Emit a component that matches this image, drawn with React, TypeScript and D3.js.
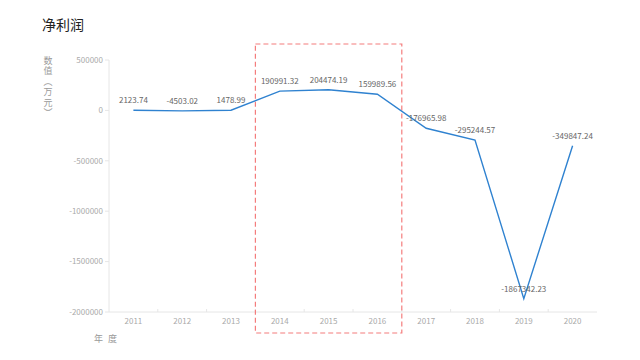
import React from 'react';
import * as d3 from 'd3';

const years = ['2011', '2012', '2013', '2014', '2015', '2016', '2017', '2018', '2019', '2020'];
const profit = [2123.74, -4503.02, 1478.99, 190991.32, 204474.19, 159989.56, -176965.98, -295244.57, -1867342.23, -349847.24];
const yTicks = [500000, 0, -500000, -1000000, -1500000, -2000000];
const highlight = ['2014', '2016'];

const W = 640;
const H = 360;
const margin = { left: 109, right: 43, top: 60, bottom: 48 };

const App = () => {
  const x = d3.scaleBand<string>().domain(years).range([margin.left, W - margin.right]);
  const y = d3.scaleLinear().domain([-2000000, 500000]).range([H - margin.bottom, margin.top]);
  const cx = (d: string) => (x(d) as number) + x.bandwidth() / 2;

  const line = d3.line<number>()
    .x((_, i) => cx(years[i]))
    .y(d => y(d));

  const font = '"Noto Sans CJK SC", "Liberation Sans", sans-serif';
  const hx0 = x(highlight[0]) as number;
  const hx1 = (x(highlight[1]) as number) + x.bandwidth();

  return (
    <svg width={W} height={H} style={{ position: 'absolute', left: 0, top: 0 }} fontFamily={font}>
      <text x={42} y={30} fontSize={14} fill="#222">净利润</text>

      {/* y axis name, vertical */}
      <text x={48} y={56} fontSize={9} fill="#999" letterSpacing={1.5}
        style={{ writingMode: 'vertical-rl' }}>数值（万元）</text>

      {/* axes */}
      <line x1={margin.left} x2={margin.left} y1={margin.top} y2={H - margin.bottom} stroke="#e6e6e6" />
      <line x1={margin.left} x2={W - margin.right} y1={H - margin.bottom} y2={H - margin.bottom} stroke="#e6e6e6" />
      {yTicks.map(t => (
        <g key={t}>
          <line x1={margin.left - 4} x2={margin.left} y1={y(t)} y2={y(t)} stroke="#e6e6e6" />
          <text x={margin.left - 6} y={y(t)} dy="0.35em" fontSize={8} fill="#aaa" textAnchor="end">{t}</text>
        </g>
      ))}
      {years.map((d, i) => (
        <g key={d}>
          {i > 0 && <line x1={x(d)} x2={x(d)} y1={H - margin.bottom} y2={H - margin.bottom - 3} stroke="#e6e6e6" />}
          <text x={cx(d)} y={H - margin.bottom + 12} fontSize={8} fill="#aaa" textAnchor="middle">{d}</text>
        </g>
      ))}
      <text x={94} y={342} fontSize={9} fill="#999" letterSpacing={5}>年度</text>

      {/* highlight box */}
      <rect x={hx0} y={44} width={hx1 - hx0} height={289} fill="none" stroke="#f47d7d" strokeWidth={1.2} strokeDasharray="5,3" />

      <path d={line(profit) || ''} fill="none" stroke="#2f82d0" strokeWidth={1.4} />

      {profit.map((v, i) => (
        <text key={i} x={cx(years[i])} y={y(v) - 7} fontSize={8} fill="#666" textAnchor="middle">{v}</text>
      ))}
    </svg>
  );
};

export default App;
